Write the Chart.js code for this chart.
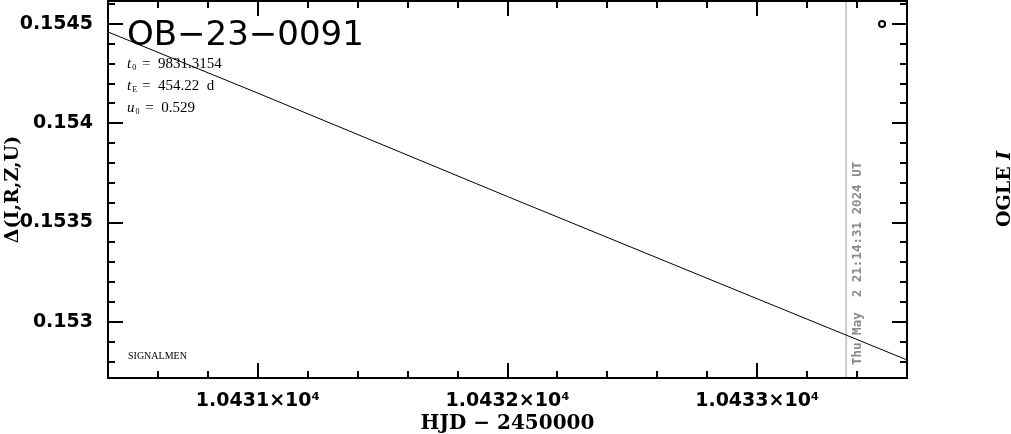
<!DOCTYPE html>
<html>
<head>
<meta charset="utf-8">
<script src="https://cdn.jsdelivr.net/npm/chart.js@4/dist/chart.umd.min.js"></script>
<style>
  html, body { margin: 0; padding: 0; background: #fff; }
  #wrap { width: 1011px; height: 434px; }
</style>
</head>
<body>
<div id="wrap"><canvas id="lc"></canvas></div>
<script>
// model curve
const hjd = [10430.4, 10431, 10432, 10433, 10433.6];
const dmag = [0.15446, 0.154152, 0.153631, 0.153116, 0.152808];
// small open symbol top right
const markX = [10433.5];
const markY = [0.1545];
// vertical gray line (time of plot)
const nowHjd = 10433.356;
const xTicks = [10431, 10432, 10433];
const yTicks = [0.153, 0.1535, 0.154, 0.1545];
const xMin = 10430.4, xMax = 10433.6;
const yMin = 0.152717, yMax = 0.154616;

const supFour = "\u2074";

const boxTicks = {
  id: "boxTicks",
  afterDraw(chart) {
    const c = chart.ctx, a = chart.chartArea;
    const xs = chart.scales.x, ys = chart.scales.y;
    c.save();
    c.strokeStyle = "#000";
    c.lineWidth = 2;
    c.strokeRect(a.left, a.top, a.right - a.left, a.bottom - a.top);
    c.beginPath();
    for (let i = 0; i <= 20; i++) {
      const v = 10430.4 + i * 0.2;
      if (v > xMax + 1e-6) break;
      const p = Math.round(xs.getPixelForValue(v));
      const major = Math.abs(v - Math.round(v)) < 1e-6;
      const len = major ? 15 : 7;
      c.moveTo(p, a.bottom); c.lineTo(p, a.bottom - len);
      c.moveTo(p, a.top); c.lineTo(p, a.top + len);
    }
    for (let i = 0; i <= 25; i++) {
      const v = 0.1527 + i * 0.0001;
      if (v > yMax) break;
      if (v < yMin) continue;
      const p = Math.round(ys.getPixelForValue(v));
      const major = Math.abs(v * 2000 - Math.round(v * 2000)) < 1e-6;
      const len = major ? 15 : 7;
      c.moveTo(a.left, p); c.lineTo(a.left + len, p);
      c.moveTo(a.right, p); c.lineTo(a.right - len, p);
    }
    c.stroke();

    // labels
    c.fillStyle = "#000";
    c.textBaseline = "alphabetic";
    c.font = "34px 'DejaVu Sans'";
    c.fillText("OB\u221223\u22120091", 127, 45);

    const params = [["t", "0", " =  9831.3154", 68], ["t", "E", " =  454.22  d", 90], ["u", "0", " =  0.529", 112]];
    params.forEach(p => {
      c.font = "italic 15px 'Liberation Serif'";
      c.fillText(p[0], 127, p[3]);
      const w = c.measureText(p[0]).width;
      c.font = "8px 'Liberation Serif'";
      c.fillText(p[1], 127 + w + 1, p[3] + 2);
      c.font = "15px 'Liberation Serif'";
      c.fillText(p[2], 127 + w + 7, p[3]);
    });

    c.font = "10px 'Liberation Serif'";
    c.fillText("SIGNALMEN", 128, 359);

    // timestamp
    c.save();
    c.translate(861, 365);
    c.rotate(-Math.PI / 2);
    c.fillStyle = "#8a8a8a";
    c.font = "bold 12.5px 'DejaVu Sans Mono'";
    c.fillText("Thu May  2 21:14:31 2024 UT", 0, 0);
    c.restore();

    // right label
    c.save();
    c.translate(1010, 227);
    c.rotate(-Math.PI / 2);
    c.fillStyle = "#000";
    c.font = "bold 19px 'DejaVu Serif'";
    c.fillText("OGLE ", 0, 0);
    const w2 = c.measureText("OGLE ").width;
    c.font = "italic bold 19px 'DejaVu Serif'";
    c.fillText("I", w2, 0);
    c.restore();
    c.restore();
  }
};

new Chart(document.getElementById("lc"), {
  type: "scatter",
  data: {
    datasets: [
      {
        data: hjd.map((x, i) => ({ x: x, y: dmag[i] })),
        showLine: true,
        borderColor: "#000",
        borderWidth: 1,
        pointRadius: 0
      },
      {
        data: [{ x: nowHjd, y: yMin }, { x: nowHjd, y: yMax }],
        showLine: true,
        borderColor: "#9a9a9a",
        borderWidth: 1,
        pointRadius: 0
      },
      {
        data: markX.map((x, i) => ({ x: x, y: markY[i] })),
        pointRadius: 3,
        pointBorderWidth: 2,
        pointBorderColor: "#000",
        pointBackgroundColor: "#fff"
      }
    ]
  },
  options: {
    responsive: true,
    maintainAspectRatio: false,
    animation: false,
    layout: { autoPadding: false, padding: { top: 1, right: 104, left: 0, bottom: 0 } },
    plugins: { legend: { display: false }, tooltip: { enabled: false } },
    scales: {
      x: {
        type: "linear",
        min: xMin, max: xMax,
        grid: { display: false, drawTicks: false },
        border: { display: false },
        afterBuildTicks: s => { s.ticks = xTicks.map(v => ({ value: v })); },
        afterFit: s => { s.height = 56; s.paddingLeft = 0; s.paddingRight = 0; },
        ticks: {
          padding: 12,
          color: "#000",
          maxRotation: 0,
          font: { family: "'DejaVu Sans'", weight: "bold", size: 19 },
          callback: v => (v / 10000).toFixed(4) + "\u00d710" + supFour
        },
        title: {
          display: true,
          text: "HJD \u2212 2450000",
          color: "#000",
          padding: { top: 0, bottom: 0 },
          font: { family: "'DejaVu Serif'", weight: "bold", size: 20, lineHeight: 1 }
        }
      },
      y: {
        type: "linear",
        min: yMin, max: yMax,
        grid: { display: false, drawTicks: false },
        border: { display: false },
        afterBuildTicks: s => { s.ticks = yTicks.map(v => ({ value: v })); },
        afterFit: s => { s.width = 108; s.paddingTop = 0; s.paddingBottom = 0; },
        ticks: {
          padding: 15,
          color: "#000",
          font: { family: "'DejaVu Sans'", weight: "bold", size: 19 },
          callback: v => String(v)
        },
        title: {
          display: true,
          text: "\u0394(I,R,Z,U)",
          color: "#000",
          padding: { top: 4, bottom: 0 },
          font: { family: "'DejaVu Serif'", weight: "bold", size: 19, lineHeight: 1 }
        }
      }
    }
  },
  plugins: [boxTicks]
});
</script>
</body>
</html>
